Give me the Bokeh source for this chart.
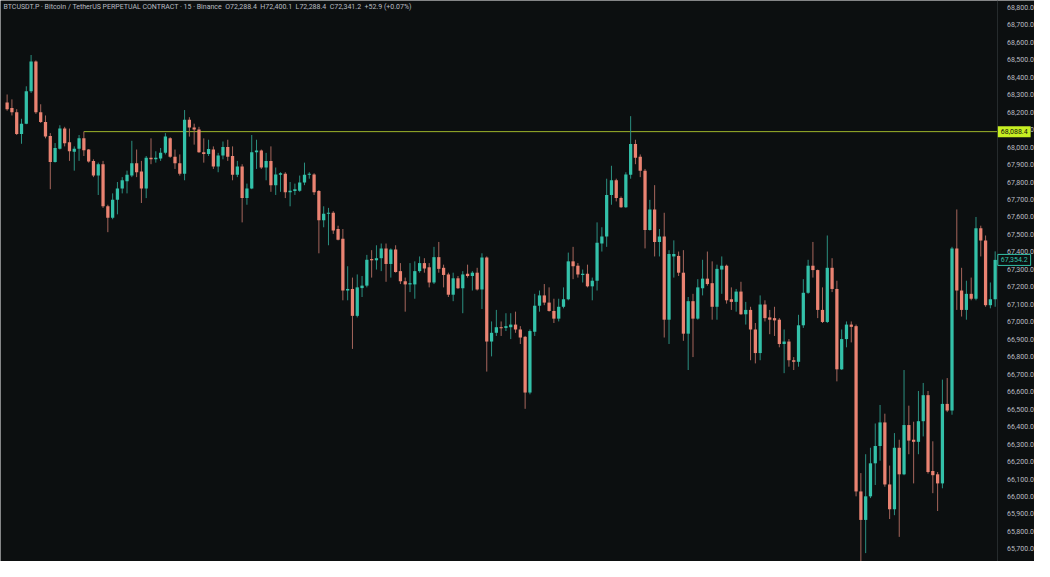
from bokeh.plotting import figure
from bokeh.models import (ColumnDataSource, Range1d, NumeralTickFormatter,
                          SingleIntervalTicker, Label, LinearAxis)
from bokeh.embed import file_html
from bokeh.resources import INLINE

# ---------------- data (15-minute candles) ----------------
opens = [
    68255, 68223, 68199, 68075, 68134, 68320, 68490, 68199, 68143, 68064,
    67915, 67991, 68106, 68027, 67973, 67991, 68050, 67986, 67921, 67837,
    67902, 67661, 67596, 67698, 67763, 67804, 67837, 67908, 67860, 67763,
    67939, 67930, 67934, 67967, 68050, 67945, 67908, 67847, 68156, 68112,
    68101, 67971, 67961, 67986, 67889, 67952, 68000, 67949, 67841, 67889,
    67708, 67763, 67971, 67980, 67883, 67921, 67782, 67841, 67847, 67741,
    67748, 67750, 67797, 67841, 67843, 67748, 67581, 67619, 67624, 67531,
    67475, 67179, 67188, 67034, 67193, 67207, 67359, 67352, 67364, 67420,
    67331, 67414, 67290, 67232, 67214, 67214, 67290, 67336, 67312, 67225,
    67370, 67309, 67271, 67155, 67249, 67192, 67275, 67262, 67281, 67185,
    67368, 66887, 66937, 66969, 66965, 66969, 66984, 66956, 66914, 66595,
    66943, 67092, 67151, 67110, 67062, 67018, 67086, 67129, 67346, 67321,
    67268, 67275, 67203, 67235, 67448, 67488, 67726, 67810, 67708, 67655,
    67841, 68017, 67945, 67865, 67526, 67643, 67457, 67488, 67012, 67374,
    67377, 67281, 66932, 67118, 67018, 67192, 67247, 67221, 67086, 67299,
    67321, 67129, 67114, 67173, 67043, 67068, 66956, 66821, 67099, 67025,
    67021, 67012, 66873, 66887, 66780, 66771, 66980, 67166, 67321, 67296,
    67068, 66999, 67309, 67188, 66728, 66901, 66984, 66975, 66029, 65866,
    66001, 66190, 66289, 66424, 66069, 65927, 66279, 66127, 66409, 66325,
    66313, 66431, 66580, 66146, 66127, 66075, 66530, 66492, 67420, 67179,
    67068, 67160, 67132, 67535, 67466, 67095, 67129,
]
highs = [
    68301, 68273, 68217, 68162, 68348, 68527, 68496, 68245, 68181, 68080,
    68023, 68125, 68116, 68106, 68004, 68069, 68088.4, 67989, 67930, 67911,
    67921, 67670, 67735, 67800, 67828, 67865, 68036, 67986, 67921, 67949,
    68050, 67976, 67995, 68080, 68056, 67986, 67958, 68212, 68171, 68134,
    68116, 68050, 68042, 68004, 67967, 68032, 68042, 68004, 67921, 67902,
    67791, 68069, 68042, 67986, 67967, 68004, 67883, 67856, 67856, 67800,
    67791, 67837, 67911, 67856, 67850, 67754, 67661, 67652, 67633, 67550,
    67531, 67318, 67253, 67271, 67262, 67383, 67410, 67438, 67448, 67448,
    67420, 67438, 67336, 67253, 67336, 67346, 67374, 67364, 67336, 67429,
    67457, 67327, 67281, 67281, 67262, 67290, 67327, 67290, 67309, 67392,
    67374, 67002, 67068, 67002, 67049, 67049, 67058, 66975, 66919, 66956,
    67160, 67179, 67216, 67197, 67132, 67132, 67197, 67396, 67429, 67336,
    67299, 67327, 67253, 67569, 67541, 67819, 67893, 67819, 67717, 67856,
    68177, 68042, 67958, 67875, 67698, 67782, 67531, 67624, 67410, 67466,
    67402, 67410, 67142, 67160, 67244, 67355, 67402, 67346, 67327, 67374,
    67327, 67197, 67188, 67229, 67114, 67086, 66993, 67151, 67123, 67068,
    67086, 67021, 66956, 66901, 66798, 67040, 67244, 67355, 67457, 67299,
    67197, 67494, 67364, 67235, 66956, 67002, 67002, 66984, 66134, 66242,
    66279, 66418, 66524, 66474, 66177, 66363, 66325, 66724, 66520, 66428,
    66604, 66650, 66604, 66316, 66140, 66669, 66678, 67429, 67643, 67309,
    67235, 67253, 67600, 67550, 67494, 67225, 67403,
]
lows = [
    68208, 68181, 68069, 68019, 68131, 68310, 68190, 68138, 68050, 67759,
    67911, 67986, 68004, 67921, 67865, 67921, 67949, 67911, 67828, 67726,
    67652, 67513, 67587, 67615, 67735, 67735, 67828, 67828, 67680, 67708,
    67902, 67911, 67921, 67958, 67939, 67875, 67837, 67810, 68060, 68014,
    67967, 67911, 67949, 67875, 67856, 67930, 67921, 67810, 67828, 67569,
    67670, 67759, 67875, 67875, 67810, 67744, 67726, 67744, 67708, 67661,
    67726, 67744, 67782, 67819, 67726, 67392, 67541, 67438, 67503, 67466,
    67123, 67123, 66845, 67025, 67142, 67197, 67253, 67299, 67290, 67229,
    67253, 67281, 67216, 67058, 67170, 67132, 67281, 67281, 67197, 67216,
    67281, 67197, 67142, 67118, 67188, 67049, 67253, 67179, 67179, 67073,
    66715, 66802, 66919, 66919, 66947, 66901, 66937, 66873, 66502, 66585,
    66919, 67058, 67095, 67058, 66993, 67002, 67077, 67123, 67244, 67253,
    67225, 67197, 67123, 67179, 67402, 67429, 67670, 67689, 67652, 67652,
    67819, 67902, 67828, 67420, 67522, 67374, 67374, 66910, 66873, 67253,
    67262, 66891, 66724, 66798, 67012, 67151, 67207, 67012, 67012, 67160,
    67104, 67068, 67058, 67040, 66984, 66780, 66762, 66780, 67002, 66929,
    66919, 66854, 66706, 66743, 66724, 66743, 66965, 67160, 67253, 67021,
    66993, 66993, 67170, 66659, 66724, 66854, 66882, 66001, 65630, 65676,
    65991, 66066, 66205, 66056, 65871, 65893, 65769, 66122, 66242, 66075,
    66242, 66344, 66131, 66019, 65917, 66047, 66483, 66468, 67068, 67030,
    67012, 67123, 67123, 67374, 67086, 67077, 67086,
]
closes = [
    68217, 68199, 68075, 68134, 68320, 68490, 68199, 68143, 68060, 67915,
    67995, 68106, 68022, 67976, 67991, 68050, 67982, 67917, 67837, 67902,
    67661, 67596, 67698, 67763, 67810, 67841, 67908, 67856, 67763, 67939,
    67930, 67939, 67967, 68060, 67945, 67908, 67847, 68156, 68112, 68101,
    67971, 67961, 67989, 67889, 67952, 68000, 67945, 67841, 67889, 67708,
    67763, 67971, 67980, 67883, 67921, 67782, 67843, 67850, 67741, 67750,
    67758, 67797, 67841, 67847, 67741, 67581, 67619, 67624, 67522, 67470,
    67179, 67188, 67034, 67197, 67207, 67355, 67352, 67364, 67420, 67331,
    67414, 67285, 67232, 67214, 67221, 67290, 67336, 67305, 67225, 67370,
    67303, 67268, 67155, 67249, 67192, 67271, 67262, 67281, 67185, 67368,
    66887, 66937, 66969, 66965, 66975, 66984, 66956, 66910, 66595, 66947,
    67092, 67151, 67110, 67062, 67018, 67086, 67129, 67346, 67318, 67271,
    67275, 67203, 67235, 67453, 67488, 67726, 67810, 67708, 67655, 67843,
    68017, 67939, 67865, 67526, 67643, 67457, 67488, 67012, 67388, 67388,
    67281, 66932, 67118, 67018, 67197, 67247, 67216, 67086, 67303, 67321,
    67123, 67114, 67173, 67043, 67068, 66956, 66821, 67099, 67021, 67012,
    67008, 66873, 66887, 66780, 66771, 66980, 67166, 67321, 67296, 67068,
    66999, 67309, 67188, 66728, 66901, 66984, 66971, 66029, 65866, 66001,
    66190, 66289, 66424, 66069, 65927, 66279, 66127, 66409, 66320, 66313,
    66431, 66580, 66140, 66122, 66075, 66530, 66492, 67420, 67179, 67068,
    67160, 67132, 67535, 67466, 67095, 67129, 67354.2,
]

level_price = 68088.4          # horizontal line (high of candle 16)
level_start = 16
last_price = 67354.2
y_low, y_high = 65628, 68839   # visible price range
tick_step = 100

GAP = "\u00a0\u00a0"
title_text = ("BTCUSDT.P \u00b7 Bitcoin / TetherUS PERPETUAL CONTRACT \u00b7 15 \u00b7 Binance" + GAP +
              "O72,288.4" + GAP + "H72,400.1" + GAP + "L72,288.4" + GAP + "C72,341.2" + GAP +
              "+52.9 (+0.07%)")

# ---------------- styling ----------------
BG = "#0c0f10"
UP = "#33c1a9"
DOWN = "#ea8372"
UP_WICK = "#2b8f80"
DOWN_WICK = "#a6665c"
TEXT = "#b9bcc2"
LEVEL = "#9db52a"
LIME = "#c7ef22"

n = len(closes)
idx = list(range(n))
up = [c >= o for o, c in zip(opens, closes)]
tops, bots = [], []
for o, c in zip(opens, closes):
    t, b = max(o, c), min(o, c)
    if t - b < 6:
        b = t - 6
    tops.append(t)
    bots.append(b)

src = ColumnDataSource(dict(
    x=idx, open=opens, high=highs, low=lows, close=closes,
    top=tops, bottom=bots,
    color=[UP if u else DOWN for u in up],
    wick=[UP_WICK if u else DOWN_WICK for u in up],
))

# price scale sits at the right end of the frame (fixed location), so the
# price tags can be drawn over it
x_left = -1.38
axis_x = n - 0.6
x_right = 214.2

W, H = 1034, 561
p = figure(width=W, height=H, output_backend="svg", toolbar_location=None,
           x_axis_location=None, y_axis_location=None,
           x_range=Range1d(x_left, x_right), y_range=Range1d(y_low, y_high),
           min_border_left=0, min_border_top=0, min_border_bottom=0,
           min_border_right=0)
p.background_fill_color = BG
p.border_fill_color = BG
p.outline_line_color = None
p.grid.visible = False

# level line
p.segment(x0=[level_start], y0=[level_price], x1=[axis_x], y1=[level_price],
          line_color=LEVEL, line_width=1)

p.segment(x0="x", y0="high", x1="x", y1="low", source=src,
          line_color="wick", line_width=1)
p.vbar(x="x", width=0.68, top="top", bottom="bottom", source=src,
       fill_color="color", line_color=None)

ax = LinearAxis(fixed_location=axis_x)
ax.ticker = SingleIntervalTicker(interval=tick_step)
ax.formatter = NumeralTickFormatter(format="0,0.0")
ax.major_label_text_font_size = "7px"
ax.major_label_text_color = TEXT
ax.major_label_text_font = "Roboto"
ax.major_label_standoff = 4
ax.major_tick_line_color = None
ax.minor_tick_line_color = None
ax.axis_line_color = "#262b2d"
p.add_layout(ax, "right")

p.add_layout(Label(x=3, y=H - 6, x_units="screen", y_units="screen",
                   text=title_text, text_font="Roboto", text_font_size="7px",
                   text_color=TEXT, text_baseline="middle"))

p.add_layout(Label(x=axis_x + 0.15, y=level_price,
                   text="68,088.4", text_font="Roboto", text_font_size="7px",
                   text_color="#10130a", text_baseline="middle",
                   background_fill_color=LIME, padding=3))
p.add_layout(Label(x=axis_x + 0.15, y=last_price,
                   text="67,354.2", text_font="Roboto", text_font_size="7px",
                   text_color=UP, text_baseline="middle",
                   background_fill_color=BG, border_line_color=UP,
                   border_line_width=1, padding=3))

open("out.html", "w").write(file_html(p, INLINE))
